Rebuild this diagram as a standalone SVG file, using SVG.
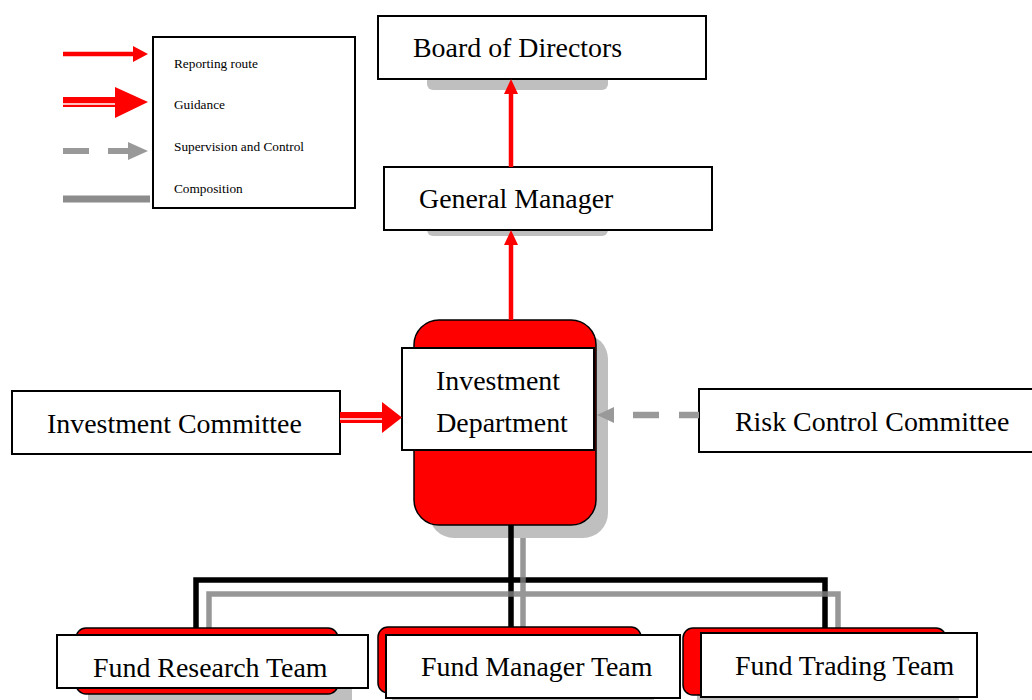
<svg xmlns="http://www.w3.org/2000/svg" width="1032" height="700" viewBox="0 0 1032 700">
<style>
.box{fill:#fff;stroke:#000;stroke-width:2}
.red{fill:#ff0000;stroke:#000;stroke-width:1.5}
.sh{fill:#bfbfbf}
.t{font-family:"Liberation Serif","Times New Roman",serif;font-size:27.9px;fill:#000}
.lt{font-family:"Liberation Serif","Times New Roman",serif;font-size:13.3px;fill:#000}
.rep{stroke:#ff0000;stroke-width:4.5;fill:none}
.blk{stroke:#000;stroke-width:5.5;fill:none}
.gry{stroke:#808080;stroke-width:5.5;fill:none;stroke-opacity:0.82}
</style>
<rect width="1032" height="700" fill="#fff"/>

<g id="legend">
<line x1="63" y1="54" x2="134" y2="54" stroke="#ff0000" stroke-width="4.5"/>
<path d="M133,46 L148,54 L133,62 Z" fill="#ff0000"/>
<rect x="63" y="97" width="53" height="10" fill="#ff0000"/>
<line x1="63" y1="104" x2="116" y2="104" stroke="#fff" stroke-width="1.5"/>
<path d="M115,87 L148,102 L115,118 Z" fill="#ff0000"/>
<line x1="63" y1="151" x2="89" y2="151" stroke="#999" stroke-width="6"/>
<line x1="108" y1="151" x2="130" y2="151" stroke="#999" stroke-width="6"/>
<path d="M128,142 L148,151 L128,160 Z" fill="#999"/>
<line x1="63" y1="199" x2="150" y2="199" stroke="#8c8c8c" stroke-width="7"/>
<rect x="153" y="37" width="202" height="171" class="box"/>
<text x="174" y="68" class="lt">Reporting route</text>
<text x="174" y="109" class="lt">Guidance</text>
<text x="174" y="151" class="lt">Supervision and Control</text>
<text x="174" y="193" class="lt">Composition</text>
</g>

<g id="board">
<rect x="427" y="40" width="181" height="50" rx="6" class="sh"/>
<rect x="378" y="16" width="328" height="63" class="box"/>
<text x="413" y="57" class="t">Board of Directors</text>
</g>

<g id="gm">
<rect x="427" y="190" width="181" height="46" rx="6" class="sh"/>
<rect x="384" y="167" width="328" height="63" class="box"/>
<text x="419" y="208" class="t">General Manager</text>
</g>

<g id="investdept">
<rect x="429" y="334" width="179" height="204" rx="25" class="sh"/>
<rect x="414" y="320" width="182" height="205" rx="25" class="red"/>
<rect x="402" y="348" width="192" height="102" class="box"/>
<text x="498" y="390" class="t" text-anchor="middle">Investment</text>
<text x="502" y="432" class="t" text-anchor="middle">Department</text>
</g>

<g id="invcommittee">
<rect x="12" y="391" width="328" height="63" class="box"/>
<text x="47" y="433" class="t">Investment Committee</text>
</g>

<g id="riskcommittee">
<rect x="699" y="389" width="340" height="63" class="box"/>
<text x="735" y="431" class="t">Risk Control Committee</text>
</g>

<g id="connectors">
<line x1="511" y1="167" x2="511" y2="93" class="rep"/>
<path d="M504,94 L511,79 L518,94 Z" fill="#ff0000"/>
<line x1="511" y1="320" x2="511" y2="244" class="rep"/>
<path d="M504,245 L511,230 L518,245 Z" fill="#ff0000"/>
<rect x="340" y="412" width="43" height="11" fill="#ff0000"/>
<line x1="340" y1="419" x2="383" y2="419" stroke="#fff" stroke-width="1.5"/>
<path d="M382,402 L402,417.5 L382,433 Z" fill="#ff0000"/>
<line x1="679" y1="415" x2="699" y2="415" stroke="#999" stroke-width="6.5"/>
<line x1="633" y1="415" x2="659" y2="415" stroke="#999" stroke-width="6.5"/>
<path d="M614,407 L597,415 L614,423 Z" fill="#999"/>
<path d="M196,628 L196,580 L825,580 L825,628 M511,525 L511,628" class="blk"/>
<path d="M209,628 L209,594 L838,594 L838,628 M523,538 L523,628" class="gry"/>
</g>

<g id="research">
<rect x="88" y="640" width="264" height="70" rx="8" class="sh"/>
<rect x="76" y="628" width="262" height="66" rx="10" class="red"/>
<rect x="57" y="635" width="311" height="53" class="box"/>
<text x="93" y="677" class="t">Fund Research Team</text>
</g>

<g id="manager">
<rect x="392" y="640" width="262" height="70" rx="8" class="sh"/>
<rect x="378" y="627" width="263" height="66" rx="10" class="red"/>
<rect x="386" y="635" width="294" height="63" class="box"/>
<text x="421" y="676" class="t">Fund Manager Team</text>
</g>

<g id="trading">
<rect x="697" y="640" width="262" height="70" rx="8" class="sh"/>
<rect x="683" y="628" width="263" height="67" rx="10" class="red"/>
<rect x="701" y="633" width="276" height="64" class="box"/>
<text x="735" y="675" class="t">Fund Trading Team</text>
</g>
</svg>
